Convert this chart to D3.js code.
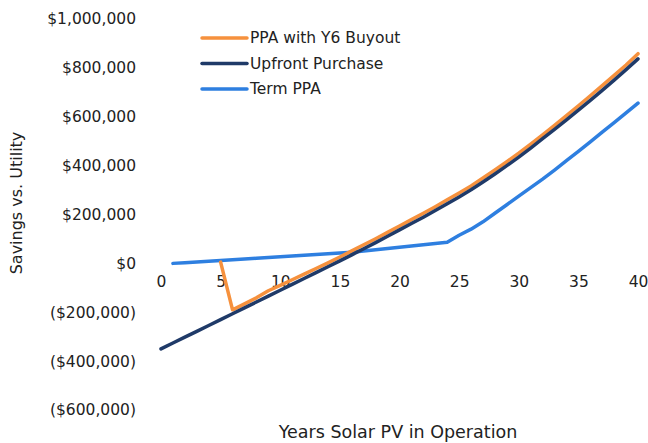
<!DOCTYPE html>
<html>
<head>
<meta charset="utf-8">
<script src="https://d3js.org/d3.v7.min.js"></script>
<style>
body { margin: 0; background: #fff; }
text { font-family: "DejaVu Sans", sans-serif; fill: #222; }
</style>
</head>
<body>
<svg class="chart"></svg>
<script>
// data (thousands of dollars)
var years = d3.range(0, 41);
var upfront = [-350, -326, -302, -278, -254, -230, -206, -182, -158, -134,
  -110, -86, -62, -38, -14, 10, 35, 60, 85, 111,
  137, 163, 189, 216, 244, 272, 301, 333, 366, 400,
  435, 472, 510, 548, 587, 627, 667, 708, 750, 793, 837];
var buyoutYears = d3.range(5, 41);
var buyout = [5, -190, -166, -141, -112, -90, -67, -44, -21, 2,
  26, 51, 76, 101, 127, 153, 179, 205, 232, 260,
  288, 317, 349, 382, 416, 451, 488, 526, 565, 605,
  645, 686, 727, 769, 812, 858];
var termYears = d3.range(1, 41);
var term = [0, 3, 6, 9, 12, 15, 18, 21, 24, 27,
  30, 33, 36, 39, 42, 46, 51, 56, 61, 66,
  71, 76, 81, 86, 115, 140, 170, 205, 240, 275,
  310, 345, 382, 420, 458, 497, 537, 576, 616, 656];
var yTicks = [-600, -400, -200, 0, 200, 400, 600, 800, 1000];
var xTicks = [0, 5, 10, 15, 20, 25, 30, 35, 40];
var seriesNames = ["PPA with Y6 Buyout", "Upfront Purchase", "Term PPA"];
var colors = ["#f6913d", "#1f3a68", "#2e7fe0"];

var width = 648, height = 443;
var svg = d3.select(".chart").attr("width", width).attr("height", height);

var x = d3.scaleLinear().domain([0, 40]).range([161, 638]);
var y = d3.scaleLinear().domain([-600, 1000]).range([410, 19]);

function money(v) {
  var s = "$" + d3.format(",")(Math.abs(v) * 1000);
  return v < 0 ? "(" + s + ")" : s;
}

// y axis (labels only)
var yAxis = d3.axisLeft(y).tickValues(yTicks).tickFormat(money).tickSize(0).tickPadding(0);
svg.append("g")
  .attr("transform", "translate(136,0)")
  .call(yAxis)
  .call(function(g){ g.select(".domain").remove(); })
  .selectAll("text")
    .style("font-size", "15.5px")
    .style("font-family", "DejaVu Sans, sans-serif")
    .attr("fill", "#222");

// x axis at zero, labels only
var xAxis = d3.axisBottom(x).tickValues(xTicks).tickSize(0).tickPadding(0);
svg.append("g")
  .attr("transform", "translate(0," + (y(0) + 13) + ")")
  .call(xAxis)
  .call(function(g){ g.select(".domain").remove(); })
  .selectAll("text")
    .style("font-size", "15.5px")
    .style("font-family", "DejaVu Sans, sans-serif")
    .attr("fill", "#222");

// lines
var line = d3.line()
  .x(function(d){ return x(d[0]); })
  .y(function(d){ return y(d[1]); });

var allSeries = [
  d3.zip(buyoutYears, buyout),
  d3.zip(years, upfront),
  d3.zip(termYears, term)
];
// term first, then orange, upfront drawn on top like the reference
[2, 0, 1].forEach(function(i){
  svg.append("path")
    .datum(allSeries[i])
    .attr("d", line)
    .attr("fill", "none")
    .attr("stroke", colors[i])
    .attr("stroke-width", 3.5)
    .attr("stroke-linecap", "round")
    .attr("stroke-linejoin", "round");
});

// legend
var legend = svg.append("g").attr("transform", "translate(202,38)");
seriesNames.forEach(function(name, i){
  var row = legend.append("g").attr("transform", "translate(0," + (i * 25.5) + ")");
  row.append("line")
    .attr("x1", 0).attr("x2", 45)
    .attr("stroke", colors[i]).attr("stroke-width", 3.5)
    .attr("stroke-linecap", "round");
  row.append("text")
    .attr("x", 48).attr("dy", "0.35em")
    .style("font-size", "15.5px")
    .text(name);
});

// axis titles
svg.append("text")
  .attr("transform", "translate(22,203) rotate(-90)")
  .attr("text-anchor", "middle")
  .style("font-size", "16px")
  .text("Savings vs. Utility");

svg.append("text")
  .attr("x", 398).attr("y", 438)
  .attr("text-anchor", "middle")
  .style("font-size", "17.5px")
  .text("Years Solar PV in Operation");
</script>
</body>
</html>
